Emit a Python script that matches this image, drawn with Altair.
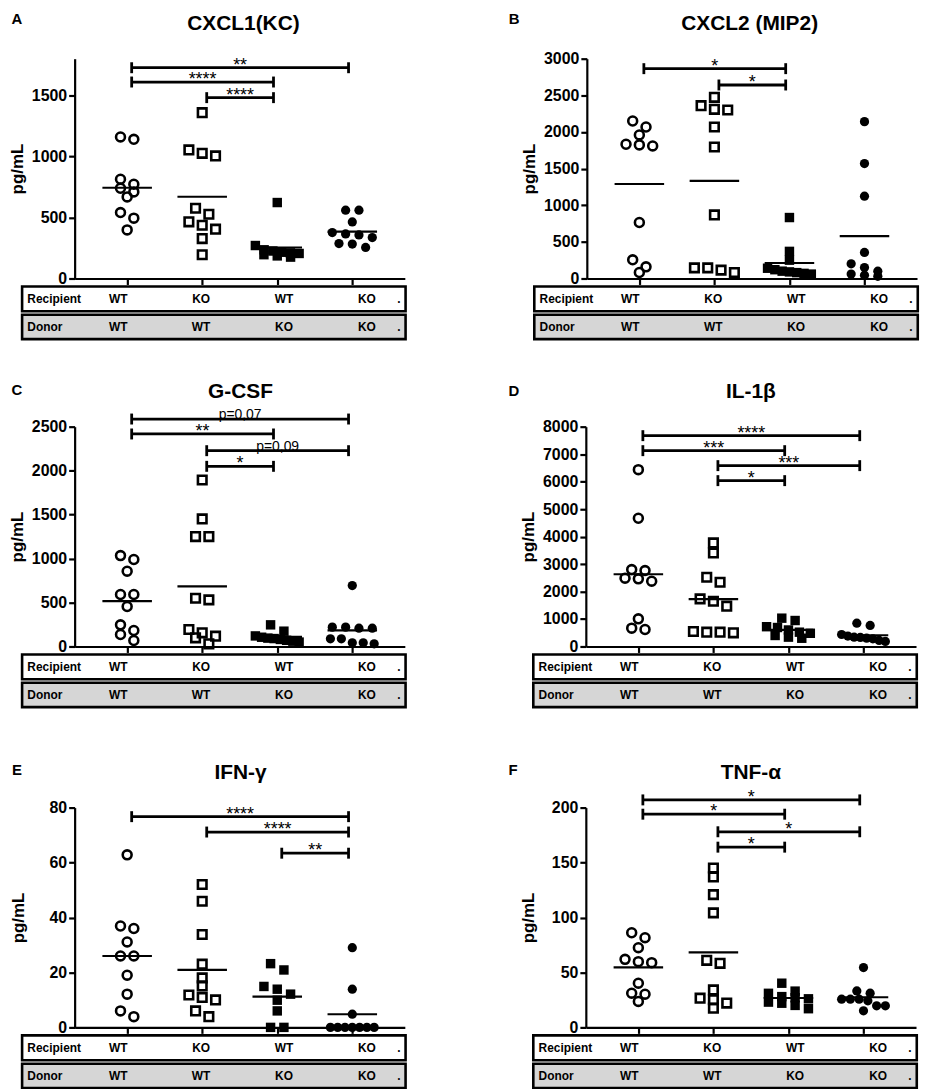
import altair as alt
import pandas as pd

FONT = "Liberation Sans"

# ---------------- shared labels ----------------
RECIPIENT = ["WT", "KO", "WT", "KO"]
DONOR = ["WT", "WT", "KO", "KO"]
ROW_LABELS = ["Recipient", "Donor"]
Y_TITLE = "pg/mL"

# ---------------- panel A ----------------
A_LETTER, A_TITLE = "A", "CXCL1(KC)"
A_YMAX = 1800
A_TICKS = [0, 500, 1000, 1500]
A_WT_WT = [1159, 1140, 813, 772, 739, 709, 668, 540, 494, 398]
A_KO_WT = [1358, 1053, 1025, 1004, 575, 526, 464, 436, 404, 327, 194]
A_WT_KO = [622, 270, 235, 225, 215, 210, 205, 195, 185, 175]
A_KO_KO = [559, 559, 463, 376, 365, 357, 335, 286, 282, 254]
A_PAIRS = [(1, 4), (1, 3), (2, 3)]
A_LEVELS = [1726, 1609, 1481]
A_SIG = ["**", "****", "****"]

# ---------------- panel B ----------------
B_LETTER, B_TITLE = "B", "CXCL2 (MIP2)"
B_YMAX = 3000
B_TICKS = [0, 500, 1000, 1500, 2000, 2500, 3000]
B_WT_WT = [2150, 2068, 1959, 1832, 1823, 1809, 764, 255, 159, 82]
B_KO_WT = [2473, 2359, 2309, 2300, 2068, 1795, 868, 145, 145, 114, 82]
B_WT_KO = [832, 370, 250, 140, 120, 100, 90, 80, 70, 60]
B_KO_KO = [2141, 1568, 1123, 355, 200, 150, 100, 60, 45, 30]
B_PAIRS = [(1, 3), (2, 3)]
B_LEVELS = [2864, 2641]
B_SIG = ["*", "*"]

# ---------------- panel C ----------------
C_LETTER, C_TITLE = "C", "G-CSF"
C_YMAX = 2500
C_TICKS = [0, 500, 1000, 1500, 2000, 2500]
C_WT_WT = [1034, 989, 856, 591, 591, 455, 246, 182, 136, 68]
C_KO_WT = [1894, 1451, 1250, 1250, 549, 530, 193, 155, 117, 98, 30]
C_WT_KO = [246, 174, 120, 105, 95, 90, 80, 70, 60, 50]
C_KO_KO = [693, 220, 220, 208, 208, 87, 87, 42, 42, 30]
C_PAIRS = [(1, 4), (1, 3), (2, 4), (2, 3)]
C_LEVELS = [2587, 2417, 2227, 2049]
C_SIG = ["p=0,07", "**", "p=0,09", "*"]

# ---------------- panel D ----------------
D_LETTER, D_TITLE = "D", "IL-1β"
D_YMAX = 8000
D_TICKS = [0, 1000, 2000, 3000, 4000, 5000, 6000, 7000, 8000]
D_WT_WT = [6436, 4667, 2800, 2764, 2485, 2461, 2376, 1006, 667, 618]
D_KO_WT = [3770, 3406, 2521, 2339, 1733, 1648, 1467, 545, 521, 521, 497]
D_WT_KO = [1030, 945, 720, 690, 600, 520, 480, 400, 340, 300]
D_KO_KO = [848, 764, 436, 380, 339, 330, 303, 280, 218, 182]
D_PAIRS = [(1, 4), (1, 3), (2, 4), (2, 3)]
D_LEVELS = [7673, 7127, 6582, 6036]
D_SIG = ["****", "***", "***", "*"]

# ---------------- panel E ----------------
E_LETTER, E_TITLE = "E", "IFN-γ"
E_YMAX = 80
E_TICKS = [0, 20, 40, 60, 80]
E_WT_WT = [62.8, 36.9, 36.0, 31.1, 26.0, 26.0, 19.0, 12.1, 6.0, 3.9]
E_KO_WT = [52.0, 45.9, 33.8, 23.0, 18.0, 15.1, 11.8, 10.9, 10.0, 6.0, 3.9]
E_WT_KO = [23.2, 20.9, 14.9, 13.9, 12.1, 9.9, 6.0, 0, 0]
E_KO_KO = [29.0, 13.9, 4.8, 0, 0, 0, 0, 0, 0, 0]
E_PAIRS = [(1, 4), (2, 4), (3, 4)]
E_LEVELS = [76.7, 71.1, 63.4]
E_SIG = ["****", "****", "**"]

# ---------------- panel F ----------------
F_LETTER, F_TITLE = "F", "TNF-α"
F_YMAX = 200
F_TICKS = [0, 50, 100, 150, 200]
F_WT_WT = [86.1, 81.6, 72.5, 61.9, 59.8, 58.9, 40.2, 31.1, 30.2, 23.6]
F_KO_WT = [145.0, 136.9, 120.8, 104.2, 61.0, 58.3, 34.1, 26.6, 25.1, 22.1, 17.5]
F_WT_KO = [40.2, 33.0, 31.0, 28.0, 27.0, 26.0, 23.0, 22.0, 20.0, 17.0]
F_KO_KO = [54.4, 33.2, 31.1, 25.7, 25.7, 25.7, 24.2, 19.6, 19.6, 15.1]
F_PAIRS = [(1, 4), (1, 3), (2, 4), (2, 3)]
F_LEVELS = [207, 194, 178, 164]
F_SIG = ["*", "*", "*", "*"]

# ---------------- geometry ----------------
W, H = 332, 221
XMIN, XMAX = 0.3, 4.7
PXG = W / (XMAX - XMIN)
ROW_H, STEP, MAXW = 8.0, 13.4, 44.0


def swarm(values, ymax):
    """GraphPad-like dot layout: bin by value into rows, centre each row."""
    rows = []
    for v in sorted(values, reverse=True):
        ypx = v * H / ymax
        if rows and rows[-1][0] - ypx < ROW_H:
            rows[-1][1].append(v)
        else:
            rows.append([ypx, [v]])
    out = []
    for _, vs in rows:
        n = len(vs)
        step = STEP if n == 1 else min(STEP, MAXW / (n - 1))
        for i, v in enumerate(vs):
            out.append((v, (i - (n - 1) / 2) * step / PXG))
    return out


def panel(letter, title, groups, pairs, levels, sig, ymax, ticks, tpad,
          letter_x, letter_up, title_x):
    u = ymax / H
    recs = []
    for gi, vals in enumerate(groups, 1):
        for v, dx in swarm(vals, ymax):
            recs.append({"g": gi, "value": v, "xp": gi + dx})
    pts = pd.DataFrame(recs)

    xs = alt.Scale(domain=[XMIN, XMAX], nice=False, zero=False)
    ys = alt.Scale(domain=[0, ymax], nice=False, zero=False)
    xax = alt.Axis(values=[1, 2, 3, 4], labels=False, title=None, grid=False,
                   domainColor="black", domainWidth=2.2, tickColor="black",
                   tickWidth=2.2, tickSize=6)
    yax = alt.Axis(values=ticks, format="d", title=Y_TITLE, grid=False,
                   domainColor="black", domainWidth=2.2, tickColor="black",
                   tickWidth=2.2, tickSize=6, labelFont=FONT, labelFontSize=16,
                   labelFontWeight="bold", labelColor="black", labelPadding=2,
                   titleFont=FONT, titleFontSize=17, titleFontWeight="bold",
                   titleColor="black", titlePadding=tpad)

    def X(f):
        return alt.X(f, type="quantitative", scale=xs, axis=xax)

    def Y(f):
        return alt.Y(f, type="quantitative", scale=ys, axis=yax)

    layers = []
    # points
    specs = [("circle", False, 80), ("square", False, 74),
             ("square", True, 90), ("circle", True, 86)]
    for gi, (shape, filled, size) in enumerate(specs, 1):
        base = alt.Chart(pts).transform_filter(f"datum.g == {gi}")
        if filled:
            m = base.mark_point(shape=shape, filled=True, color="black",
                                size=size, opacity=1, clip=False)
        else:
            m = base.mark_point(shape=shape, filled=False, color="black",
                                strokeWidth=2.6, size=size, opacity=1, clip=False)
        layers.append(m.encode(x=X("xp"), y=Y("value")))

    # mean lines
    layers.append(
        alt.Chart(pts)
        .transform_aggregate(mean="mean(value)", groupby=["g"])
        .transform_calculate(xa="datum.g - 0.33", xb="datum.g + 0.33")
        .mark_rule(color="black", strokeWidth=2.2, clip=False)
        .encode(x=X("xa"), x2="xb:Q", y=Y("mean"))
    )

    # significance brackets
    br = pd.DataFrame([
        {"x1": a + 0.06, "x2": b - 0.05, "xm": (a + b) / 2 + 0.005, "y": lv,
         "lo": lv - 5.5 * u, "hi": lv + 5.5 * u, "label": lab,
         "isp": lab.startswith("p")}
        for (a, b), lv, lab in zip(pairs, levels, sig)
    ])
    bc = alt.Chart(br)
    layers += [
        bc.mark_rule(color="black", strokeWidth=2.8, clip=False)
          .encode(x=X("x1"), x2="x2:Q", y=Y("y")),
        bc.mark_rule(color="black", strokeWidth=2.8, clip=False)
          .encode(x=X("x1"), y=Y("lo"), y2="hi:Q"),
        bc.mark_rule(color="black", strokeWidth=2.8, clip=False)
          .encode(x=X("x2"), y=Y("lo"), y2="hi:Q"),
        bc.transform_filter("!datum.isp")
          .mark_text(font=FONT, fontSize=18, baseline="alphabetic", dy=3,
                     color="black", clip=False)
          .encode(x=X("xm"), y=Y("y"), text="label:N"),
        bc.transform_filter("datum.isp")
          .mark_text(font=FONT, fontSize=14, baseline="alphabetic", dy=0,
                     color="black", clip=False)
          .encode(x=X("xm"), y=Y("y"), text="label:N"),
    ]

    # Recipient / Donor table under the axis
    rec_box = pd.DataFrame({"x1": [-0.40], "x2": [4.71], "y1": [-8 * u], "y2": [-33 * u]})
    don_box = pd.DataFrame({"x1": [-0.40], "x2": [4.71], "y1": [-36.5 * u], "y2": [-61 * u]})
    layers.append(alt.Chart(rec_box).mark_rect(fill="white", stroke="black",
                                               strokeWidth=2.6, clip=False)
                  .encode(x=X("x1"), x2="x2:Q", y=Y("y1"), y2="y2:Q"))
    layers.append(alt.Chart(don_box).mark_rect(fill="#d6d6d6", stroke="black",
                                               strokeWidth=2.6, clip=False)
                  .encode(x=X("x1"), x2="x2:Q", y=Y("y1"), y2="y2:Q"))
    ry, dy_ = -21 * u, -49 * u
    col_x = [1 + i * 1.105 - 0.12 for i in range(4)]
    lab = pd.DataFrame({"x": [-0.33, -0.33], "y": [ry, dy_], "t": ROW_LABELS})
    cells = pd.DataFrame({"x": col_x * 2, "y": [ry] * 4 + [dy_] * 4,
                          "t": RECIPIENT + DONOR})
    dots = pd.DataFrame({"x": [4.62, 4.62], "y": [ry, dy_], "t": [".", "."]})
    layers.append(alt.Chart(lab).mark_text(font=FONT, fontSize=12, fontWeight="bold",
                                           align="left", baseline="middle",
                                           color="black", clip=False)
                  .encode(x=X("x"), y=Y("y"), text="t:N"))
    layers.append(alt.Chart(cells).mark_text(font=FONT, fontSize=12, fontWeight="bold",
                                             align="center", baseline="middle",
                                             color="black", clip=False)
                  .encode(x=X("x"), y=Y("y"), text="t:N"))
    layers.append(alt.Chart(dots).mark_text(font=FONT, fontSize=12, fontWeight="bold",
                                            align="center", baseline="middle",
                                            color="black", clip=False)
                  .encode(x=X("x"), y=Y("y"), text="t:N"))

    # letter and title
    let_df = pd.DataFrame({"x": [letter_x], "y": [ymax + letter_up * u], "t": [letter]})
    tit_df = pd.DataFrame({"x": [title_x], "y": [ymax + 35 * u], "t": [title]})
    layers.append(alt.Chart(let_df).mark_text(font=FONT, fontSize=15, fontWeight="bold",
                                              align="center", baseline="middle",
                                              color="black", clip=False)
                  .encode(x=X("x"), y=Y("y"), text="t:N"))
    layers.append(alt.Chart(tit_df).mark_text(font=FONT, fontSize=21, fontWeight="bold",
                                              align="center", baseline="middle",
                                              color="black", clip=False)
                  .encode(x=X("x"), y=Y("y"), text="t:N"))

    return alt.layer(*layers).properties(width=W, height=H)


pA = panel(A_LETTER, A_TITLE, [A_WT_WT, A_KO_WT, A_WT_KO, A_KO_KO], A_PAIRS, A_LEVELS,
           A_SIG, A_YMAX, A_TICKS, 5, -0.47, 40, 2.55)
pB = panel(B_LETTER, B_TITLE, [B_WT_WT, B_KO_WT, B_WT_KO, B_KO_KO], B_PAIRS, B_LEVELS,
           B_SIG, B_YMAX, B_TICKS, 5, -0.67, 40, 2.47)
pC = panel(C_LETTER, C_TITLE, [C_WT_WT, C_KO_WT, C_WT_KO, C_KO_KO], C_PAIRS, C_LEVELS,
           C_SIG, C_YMAX, C_TICKS, 5, -0.47, 37, 2.51)
pD = panel(D_LETTER, D_TITLE, [D_WT_WT, D_KO_WT, D_WT_KO, D_KO_KO], D_PAIRS, D_LEVELS,
           D_SIG, D_YMAX, D_TICKS, 5, -0.66, 36, 2.5)
pE = panel(E_LETTER, E_TITLE, [E_WT_WT, E_KO_WT, E_WT_KO, E_KO_KO], E_PAIRS, E_LEVELS,
           E_SIG, E_YMAX, E_TICKS, 22, -0.47, 38, 2.51)
pF = panel(F_LETTER, F_TITLE, [F_WT_WT, F_KO_WT, F_WT_KO, F_KO_KO], F_PAIRS, F_LEVELS,
           F_SIG, F_YMAX, F_TICKS, 14, -0.67, 38, 2.5)

SP = 101
row1 = alt.hconcat(pA, pB, spacing=SP)
row2 = alt.hconcat(pC, pD, spacing=SP)
row3 = alt.hconcat(pE, pF, spacing=SP)

chart = (
    alt.vconcat(alt.vconcat(row1, row2, spacing=39), row3, spacing=52)
    .properties(padding={"left": 0, "top": 0, "right": 0, "bottom": 0},
                background="white")
    .configure(font=FONT)
    .configure_view(strokeWidth=0)
)

chart.save("out.html", embed_options={"renderer": "svg", "actions": False})
